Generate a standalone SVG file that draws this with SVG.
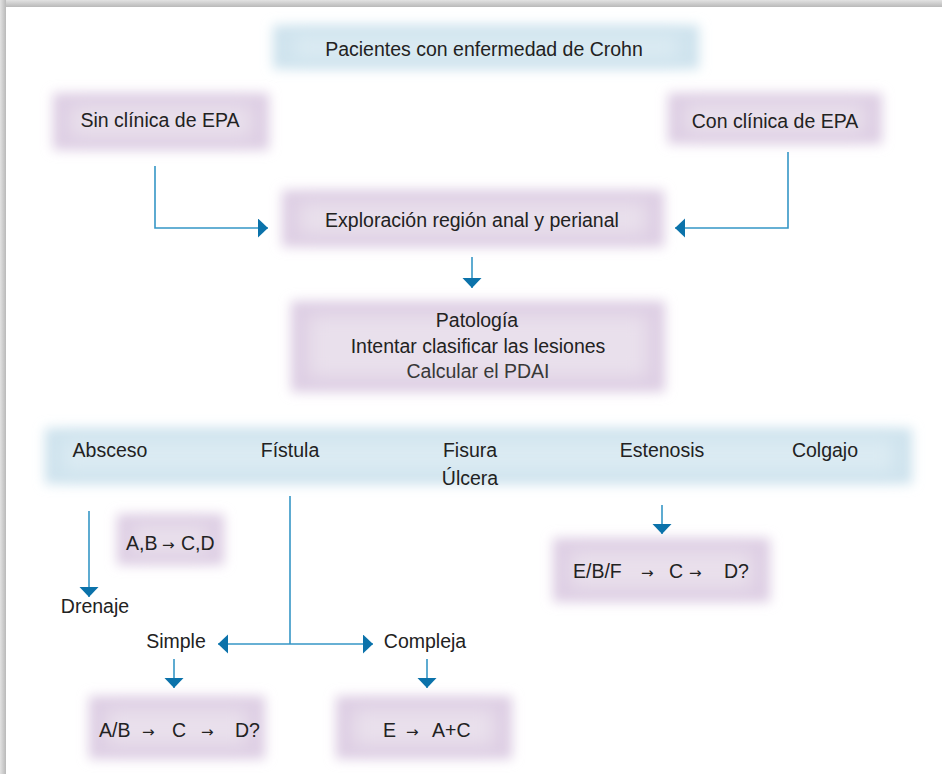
<svg xmlns="http://www.w3.org/2000/svg" width="942" height="774" viewBox="0 0 942 774">
<defs>
<style>
text{font-family:"Liberation Sans",Arial,sans-serif;font-size:19.5px;fill:#222}
.c{text-anchor:middle}
.ar{font-family:"DejaVu Sans",sans-serif;font-size:15px}
.ln{fill:none;stroke:#3596c6;stroke-width:1.6}
.pu{fill:#ddcde3}
.pi{fill:#e9e0ec}
.bl{fill:#cde2ed}
.bi{fill:#dbebf3}
</style>
<filter id="soft" x="-20%" y="-60%" width="140%" height="220%"><feGaussianBlur stdDeviation="6"/></filter>
<filter id="soft2" x="-20%" y="-60%" width="140%" height="220%"><feGaussianBlur stdDeviation="9"/></filter>
<linearGradient id="gt" x1="0" y1="0" x2="0" y2="1"><stop offset="0" stop-color="#e2e2e2"/><stop offset="1" stop-color="#b9b9b9"/></linearGradient>
<linearGradient id="gl" x1="0" y1="0" x2="1" y2="0"><stop offset="0" stop-color="#e2e2e2"/><stop offset="1" stop-color="#b9b9b9"/></linearGradient>
<marker id="ah" markerUnits="userSpaceOnUse" markerWidth="12" markerHeight="20" refX="10" refY="9.5" orient="auto"><path d="M0,0 L10,9.5 L0,19 z" fill="#0b72aa"/></marker>
</defs>
<rect width="942" height="774" fill="#fff"/>
<rect x="0" y="0" width="942" height="7" fill="url(#gt)"/>
<rect x="0" y="0" width="6" height="774" fill="url(#gl)"/>

<g id="n-pacientes">
<rect class="bl" x="273" y="25" width="426" height="44" filter="url(#soft)"/>
<rect class="bi" x="292" y="35" width="388" height="24" filter="url(#soft2)"/>
<text class="c" x="484" y="56">Pacientes con enfermedad de Crohn</text>
</g>
<g id="n-sin">
<rect class="pu" x="53" y="93" width="216" height="57" filter="url(#soft)"/>
<rect class="pi" x="70" y="105" width="182" height="33" filter="url(#soft2)"/>
<text class="c" x="160" y="127">Sin clínica de EPA</text>
</g>
<g id="n-con">
<rect class="pu" x="668" y="93" width="214" height="51" filter="url(#soft)"/>
<rect class="pi" x="685" y="104" width="180" height="29" filter="url(#soft2)"/>
<text class="c" x="775" y="128">Con clínica de EPA</text>
</g>
<g id="n-exploracion">
<rect class="pu" x="282" y="190" width="382" height="57" filter="url(#soft)"/>
<rect class="pi" x="299" y="202" width="348" height="33" filter="url(#soft2)"/>
<text class="c" x="472" y="227">Exploración región anal y perianal</text>
</g>
<g id="n-patologia">
<rect class="pu" x="291" y="301" width="374" height="91" filter="url(#soft)"/>
<rect class="pi" x="308" y="315" width="340" height="63" filter="url(#soft2)"/>
<text class="c" x="477" y="327">Patología</text>
<text class="c" x="478" y="353">Intentar clasificar las lesiones</text>
<text class="c" x="478" y="378" style="fill:#383838">Calcular el PDAI</text>
</g>
<g id="n-lesiones">
<rect class="bl" x="45" y="428" width="867" height="56" filter="url(#soft)"/>
<rect class="bi" x="62" y="439" width="833" height="34" filter="url(#soft2)"/>
<text class="c" x="110" y="457">Absceso</text>
<text class="c" x="290" y="457">Fístula</text>
<text class="c" x="470" y="457">Fisura</text>
<text class="c" x="470" y="485">Úlcera</text>
<text class="c" x="662" y="457">Estenosis</text>
<text class="c" x="825" y="457">Colgajo</text>
</g>
<g id="n-abcd">
<rect class="pu" x="117" y="514" width="107" height="51" filter="url(#soft)"/>
<rect class="pi" x="132" y="525" width="77" height="29" filter="url(#soft2)"/>
<text y="550"><tspan x="126">A,B</tspan><tspan class="ar" x="162">→</tspan><tspan x="181">C,D</tspan></text>
</g>
<g id="n-drenaje">
<text class="c" x="95" y="613">Drenaje</text>
</g>
<g id="n-simple">
<text class="c" x="176" y="648">Simple</text>
</g>
<g id="n-compleja">
<text class="c" x="425" y="648">Compleja</text>
</g>
<g id="n-ebf">
<rect class="pu" x="553" y="538" width="217" height="64" filter="url(#soft)"/>
<rect class="pi" x="570" y="551" width="183" height="38" filter="url(#soft2)"/>
<text y="578"><tspan x="573">E/B/F</tspan><tspan class="ar" x="641">→</tspan><tspan x="669">C</tspan><tspan class="ar" x="689">→</tspan><tspan x="724">D?</tspan></text>
</g>
<g id="n-ab">
<rect class="pu" x="89" y="696" width="176" height="63" filter="url(#soft)"/>
<rect class="pi" x="106" y="709" width="142" height="37" filter="url(#soft2)"/>
<text y="737"><tspan x="99">A/B</tspan><tspan class="ar" x="142">→</tspan><tspan x="172">C</tspan><tspan class="ar" x="201">→</tspan><tspan x="235">D?</tspan></text>
</g>
<g id="n-e">
<rect class="pu" x="336" y="696" width="176" height="63" filter="url(#soft)"/>
<rect class="pi" x="353" y="709" width="142" height="37" filter="url(#soft2)"/>
<text y="737"><tspan x="383">E</tspan><tspan class="ar" x="406">→</tspan><tspan x="432">A+C</tspan></text>
</g>

<g id="connectors">
<path class="ln" d="M155,166 V228 H268" marker-end="url(#ah)"/>
<path class="ln" d="M788,152 V228 H675" marker-end="url(#ah)"/>
<path class="ln" d="M472,257 V288" marker-end="url(#ah)"/>
<path class="ln" d="M89,511 V597" marker-end="url(#ah)"/>
<path class="ln" d="M290,496 V644"/>
<path class="ln" d="M290,644 H218" marker-end="url(#ah)"/>
<path class="ln" d="M290,644 H373" marker-end="url(#ah)"/>
<path class="ln" d="M174,659 V688" marker-end="url(#ah)"/>
<path class="ln" d="M427,659 V688" marker-end="url(#ah)"/>
<path class="ln" d="M662,505 V534" marker-end="url(#ah)"/>
</g>
</svg>
